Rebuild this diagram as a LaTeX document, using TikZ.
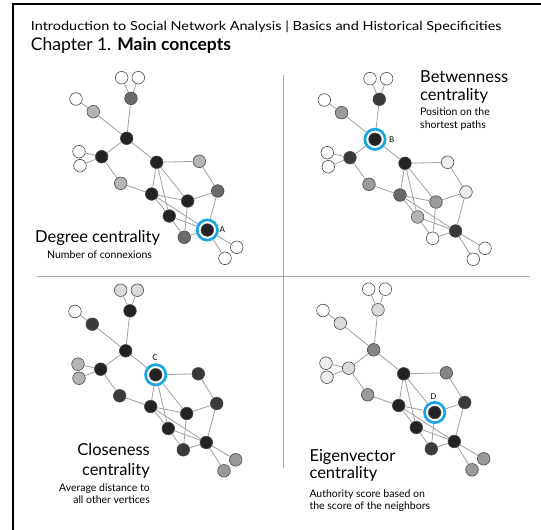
\documentclass[tikz,border=0pt]{standalone}
\usepackage{fontspec}
\setmainfont{Lato}
\definecolor{cW}{HTML}{FFFFFF}
\definecolor{cVL}{HTML}{EDEDED}
\definecolor{cL}{HTML}{DADADA}
\definecolor{cLG}{HTML}{B4B4B4}
\definecolor{cG}{HTML}{9A9A9A}
\definecolor{cMG}{HTML}{858585}
\definecolor{cDG}{HTML}{6A6A6A}
\definecolor{cD}{HTML}{3A3A3A}
\definecolor{cB}{HTML}{232323}
\definecolor{ringblue}{HTML}{1BA6E0}
\definecolor{edgegray}{HTML}{A0A0A0}
\definecolor{ndborder}{HTML}{4A4A4A}
\definecolor{divgray}{HTML}{A8A8A8}
\newcommand\netgraph[4]{%
  \begin{scope}[shift={#2}]
    \foreach \x/\y [count=\i] in {121.7/77.7, 138.3/77.7, 131/98.3, 76/99, 93.3/111.7,
      126.7/138.3, 79/151.7, 80/165.7, 101.7/156.7, 156.7/162.3,
      199.3/161.3, 120.7/183.3, 151.7/194, 217.7/191, 187.7/201,
      169.3/216, 207.3/230, 184.3/237.3, 236.7/247.3, 225/258.3}
      {\coordinate (#1c\i) at (\x,\y);}
    \foreach \c [count=\i] in {#3}
      {\ifnum\i=#4\relax
         \node[hub] (#1\i) at (#1c\i) {};
       \else
         \node[nd, fill=\c] (#1\i) at (#1c\i) {};
       \fi}
    \foreach \a/\b in {1/3, 2/3, 3/6, 4/5, 5/6, 6/9, 6/10, 7/9, 8/9, 9/12, 12/13,
      10/11, 10/13, 10/15, 10/16, 11/14, 14/15, 14/17, 13/15, 13/16, 13/17,
      16/17, 15/18, 16/18, 18/17, 17/19, 17/20}
      {\draw[edge] (#1\a) -- (#1\b);}
  \end{scope}}
\begin{document}
\begin{tikzpicture}[x=1pt, y=-1pt,
  nd/.style={circle, draw=ndborder, line width=0.6pt, minimum size=12.6pt, inner sep=0pt},
  hub/.style={circle, draw=ringblue, line width=2.7pt, fill=white, minimum size=20.3pt, inner sep=0pt,
    path picture={\filldraw[fill=cB, draw=ndborder, line width=0.6pt]
      (path picture bounding box.center) circle (6.3pt);}},
  edge/.style={draw=edgegray, line width=0.8pt},
  bigt/.style={font=\fontsize{16.5}{18}\selectfont, inner sep=0pt},
  smallt/.style={font=\fontsize{10.5}{12}\selectfont, inner sep=0pt},
  lab/.style={font=\fontsize{8}{9}\selectfont, inner sep=0pt}]
\useasboundingbox (0,0) rectangle (541,530);
\fill[white] (0,0) rectangle (541,530);
% frame
\draw[black, line width=2pt] (13,530) coordinate (fl) -- (13,4) coordinate (fc) -- (541,4) coordinate (fr);
% dividers
\draw[divgray, line width=0.9pt] (283.3,75) coordinate (v1) -- (283.3,468) coordinate (v2);
\draw[divgray, line width=0.9pt] (36.7,276) coordinate (h1) -- (530,276) coordinate (h2);
% titles
\node[anchor=base west, inner sep=0pt, font=\fontsize{12.5}{14}\selectfont] (title) at (30.7,30)
  {\scalebox{1.155}[1]{Introduction to Social Network Analysis | Basics and Historical Specificities}};
\node[anchor=base west, inner sep=0pt, font=\fontsize{17.5}{20}\selectfont] (chap) at (30.7,50)
  {Chapter 1. \textbf{Main concepts}};
% graphs
\netgraph{a}{(0,0)}{cW,cW,cDG,cW,cLG,cB,cW,cW,cB,cB,cLG,cLG,cB,cDG,cB,cB,cB,cDG,cW,cW}{17}
\netgraph{b}{(248.3,1)}{cW,cW,cD,cW,cG,cB,cW,cW,cD,cB,cVL,cG,cDG,cVL,cG,cLG,cD,cW,cW,cW}{6}
\netgraph{c}{(-1,212.5)}{cL,cL,cB,cW,cD,cB,cLG,cLG,cB,cB,cD,cD,cB,cD,cB,cB,cB,cD,cG,cG}{10}
\netgraph{d}{(247,211.5)}{cW,cW,cL,cW,cL,cMG,cVL,cVL,cL,cB,cMG,cG,cB,cD,cB,cB,cB,cD,cG,cG}{15}
% letter labels
\node[lab, anchor=west] (la) at (219.5,230) {A};
\node[lab, anchor=west] (lb) at (389,139.5) {B};
\node[lab] (lc) at (155,357.7) {C};
\node[lab] (ld) at (433.3,396.7) {D};
% Degree
\node[bigt, anchor=base west] (dg1) at (35,242.3) {Degree centrality};
\node[smallt, anchor=base west] (dg2) at (47,258) {Number of connexions};
% Betweenness
\node[bigt, anchor=base west] (bt1) at (420,82) {Betwenness};
\node[bigt, anchor=base west] (bt2) at (420,100) {centrality};
\node[smallt, anchor=base west] (bt3) at (420,115) {Position on the};
\node[smallt, anchor=base west] (bt4) at (420,128) {shortest paths};
% Closeness
\node[bigt, anchor=base east] (cl1) at (150,455.5) {Closeness};
\node[bigt, anchor=base east] (cl2) at (150,475.7) {centrality};
\node[smallt, anchor=base east] (cl3) at (150,491.7) {Average distance to};
\node[smallt, anchor=base east] (cl4) at (150,503.5) {all other vertices};
% Eigenvector
\node[bigt, anchor=base west] (ev1) at (309.3,461) {Eigenvector};
\node[bigt, anchor=base west] (ev2) at (309.3,478.3) {centrality};
\node[smallt, anchor=base west] (ev3) at (309.3,497.7) {Authority score based on};
\node[smallt, anchor=base west] (ev4) at (309.3,509.5) {the score of the neighbors};
\end{tikzpicture}
\end{document}
